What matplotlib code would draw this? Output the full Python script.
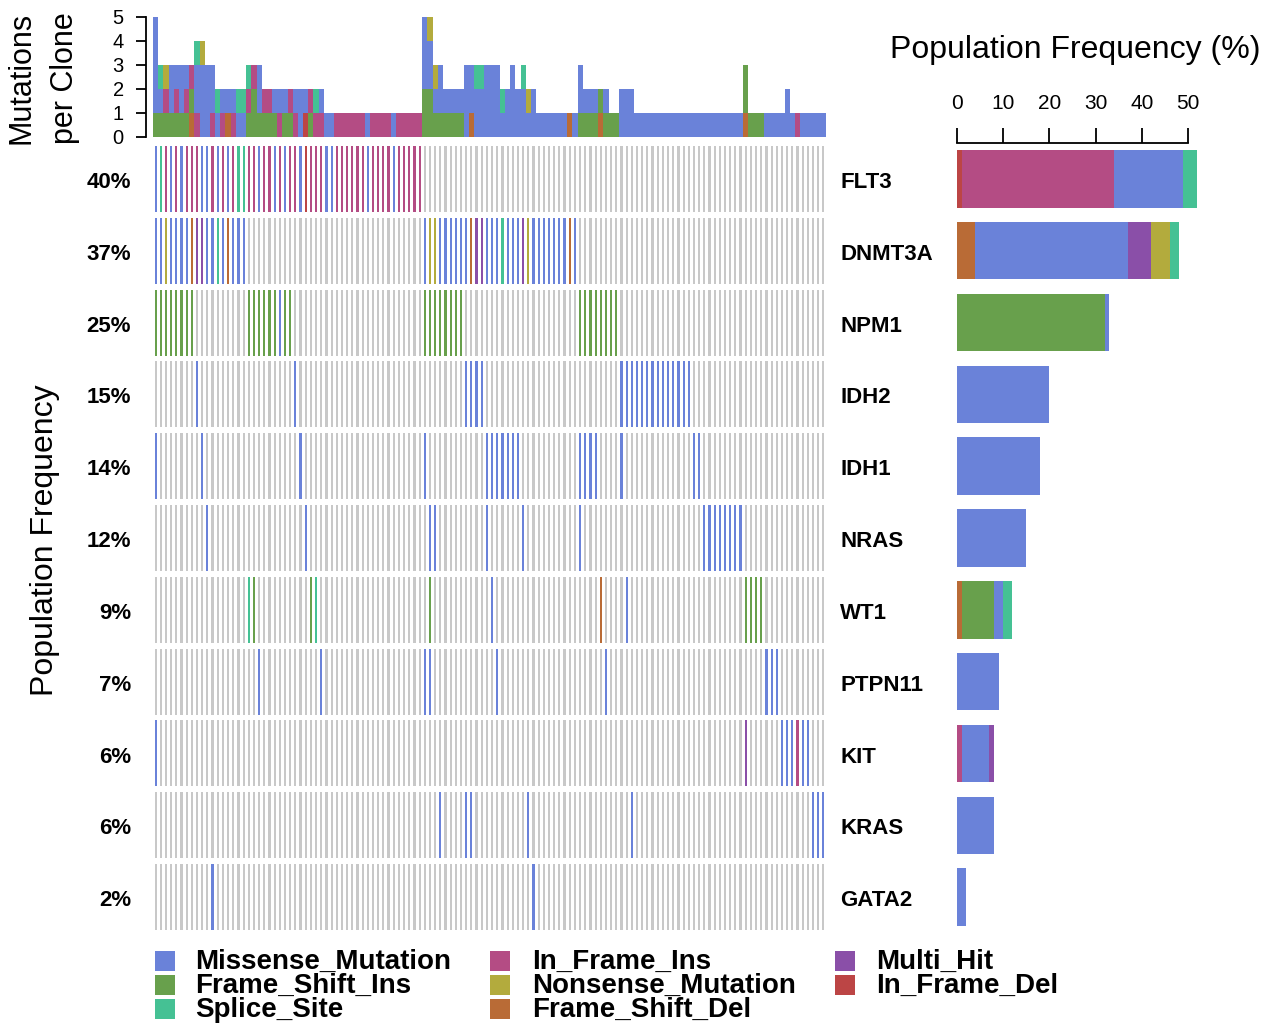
import matplotlib
matplotlib.use("Agg")
import matplotlib.pyplot as plt
from matplotlib.patches import Rectangle
from matplotlib.transforms import blended_transform_factory
import numpy as np

plt.rcParams['font.family'] = ['Liberation Sans', 'DejaVu Sans']

W, H = 1273, 1024
N_SAMPLES = 130

genes = ["FLT3", "DNMT3A", "NPM1", "IDH2", "IDH1", "NRAS",
         "WT1", "PTPN11", "KIT", "KRAS", "GATA2"]

# Per-gene calls as (first sample, variant codes for consecutive samples)
FLT3 = [(0, "MSIMIMIIIMMIMIMISSIIMIIMIMIIMEIIIMMIIIIIIMIIIIMIIIII")]
DNMT3A = [(0, "MMNMMMMDHHMMSMDMMM"), (52, "MNNMMMMMMDHHMMMSMMMHNMMMMMMMDM")]
NPM1 = [(0, "FFFFFFFF"), (18, "FFFFFFMFF"), (52, "FFFFFFFF"), (82, "FFFFFFFF")]
IDH2 = [(8, "M"), (27, "M"), (60, "MMMM"), (90, "MMMMMMMMMMMMMM")]
IDH1 = [(0, "M"), (9, "M"), (28, "M"), (52, "M"), (64, "MMMMMMM"),
        (82, "MMMM"), (90, "M"), (104, "MM")]
NRAS = [(10, "M"), (29, "M"), (53, "MM"), (64, "M"), (71, "M"), (82, "M"),
        (106, "MMMMMMMM")]
WT1 = [(18, "SF"), (30, "FS"), (53, "F"), (65, "M"), (86, "D"), (91, "M"),
       (114, "FFFF")]
PTPN11 = [(20, "M"), (32, "M"), (52, "MM"), (66, "M"), (87, "M"), (118, "MMM")]
KIT = [(0, "M"), (114, "H"), (121, "MMMIMM")]
KRAS = [(55, "M"), (60, "MM"), (72, "M"), (92, "M"), (127, "MMM")]
GATA2 = [(11, "M"), (73, "M")]
gene_calls = [FLT3, DNMT3A, NPM1, IDH2, IDH1, NRAS, WT1, PTPN11, KIT, KRAS, GATA2]

# Mutations per clone, listed bottom to top for every sample
clone_stacks = [
    "FMMMM", "FMS", "FIN", "FMM", "FIM", "FMM", "FIM", "DFI", "IMMS", "MMMN",
    "MMM", "IMM", "MS", "IM", "DM", "IM", "MS", "MS", "FIS", "FFI",
    "FMM", "FI", "FI", "FM", "IM", "FM", "FI", "IM", "MM", "EM",
    "FI", "IS", "IM", "M", "M", "I", "I", "I", "I", "I",
    "I", "M", "I", "I", "I", "I", "M", "I", "I", "I",
    "I", "I", "FFMMM", "FFMMN", "FMN", "FMM", "FM", "FM", "FM", "FM",
    "MMM", "DMM", "MMS", "MMS", "MMM", "MMM", "MMM", "MS", "MM", "MMM",
    "MM", "MMS", "MN", "MM", "M", "M", "M", "M", "M", "M",
    "D", "M", "FMM", "FM", "FM", "FM", "DF", "FM", "F", "F",
    "MM", "MM", "MM", "M", "M", "M", "M", "M", "M", "M",
    "M", "M", "M", "M", "M", "M", "M", "M", "M", "M",
    "M", "M", "M", "M", "DFF", "F", "F", "F", "M", "M",
    "M", "M", "MM", "M", "I", "M", "M", "M", "M", "M",
]

variant_names = {
    "M": "Missense_Mutation", "F": "Frame_Shift_Ins", "S": "Splice_Site",
    "I": "In_Frame_Ins", "N": "Nonsense_Mutation", "D": "Frame_Shift_Del",
    "H": "Multi_Hit", "E": "In_Frame_Del",
}
variant_colors = {
    "M": "#6A82D9", "F": "#68A04C", "S": "#45C194", "I": "#B44C84",
    "N": "#B3AB3D", "D": "#B96B36", "H": "#8A4FA8", "E": "#BC4545",
}
NO_CALL = "#C8C8C8"
legend_columns = [["M", "F", "S"], ["I", "N", "D"], ["H", "E"]]
bar_order = "DFEIMHNS"

# ---------------------------------------------------------------------------
fig = plt.figure(figsize=(W / 100, H / 100), dpi=100)


def axes_px(left, top, right, bottom):
    return fig.add_axes([left / W, 1 - bottom / H, (right - left) / W, (bottom - top) / H])


calls = np.full((len(genes), N_SAMPLES), "", dtype=object)
for g, segments in enumerate(gene_calls):
    for start, codes in segments:
        for k, code in enumerate(codes):
            calls[g, start + k] = code

# Oncoprint matrix
ax_m = axes_px(153, 143, 826, 933)
xs, ys, cols = [], [], []
for g in range(len(genes)):
    for s in range(N_SAMPLES):
        xs.append(s)
        ys.append(g)
        code = calls[g, s]
        cols.append(variant_colors[code] if code else NO_CALL)
ys = np.array(ys, dtype=float)
ax_m.bar(xs, 0.92, bottom=ys - 0.46, width=0.42, color=cols, linewidth=0)
ax_m.set_xlim(-0.5, N_SAMPLES - 0.5)
ax_m.set_ylim(len(genes) - 0.5, -0.5)
ax_m.axis("off")

tr_m = blended_transform_factory(fig.transFigure, ax_m.transData)
for g, gene in enumerate(genes):
    n_mut = int(np.sum(calls[g] != ""))
    pct = round(100 * n_mut / N_SAMPLES)
    ax_m.text(131 / W, g + 0.05, f"{pct}%", transform=tr_m, ha="right", va="center",
              fontsize=16, fontweight="bold")
    ax_m.text(840 / W, g + 0.05, gene, transform=tr_m, ha="left", va="center",
              fontsize=16, fontweight="bold")

fig.text(45 / W, 1 - 540 / H, "Population Frequency", rotation=90,
         ha="center", va="center", fontsize=23)

# Mutations per clone
ax_t = axes_px(153, 17, 826, 137)
max_depth = max(len(s) for s in clone_stacks)
for level in range(max_depth):
    lx, lc = [], []
    for s, stack in enumerate(clone_stacks):
        if len(stack) > level:
            lx.append(s)
            lc.append(variant_colors[stack[level]])
    ax_t.bar(lx, 1, bottom=level, width=1.0, color=lc, linewidth=0)
ax_t.set_xlim(-0.5, N_SAMPLES - 0.5)
ax_t.set_ylim(0, 5)
for side in ("top", "right", "bottom"):
    ax_t.spines[side].set_visible(False)
ax_t.spines["left"].set_position(("outward", 5))
ax_t.spines["left"].set_linewidth(1.3)
ax_t.set_xticks([])
ax_t.set_yticks(range(6))
ax_t.tick_params(axis="y", length=7, width=1.3, labelsize=14.5, pad=9)

fig.text(22 / W, 1 - 78 / H, "Mutations", rotation=90, ha="center", va="center", fontsize=22)
fig.text(65 / W, 1 - 78 / H, "per Clone", rotation=90, ha="center", va="center", fontsize=22)

# Gene frequency bars
ax_r = axes_px(957, 143, 1188, 933)
for g in range(len(genes)):
    left = 0
    for code in bar_order:
        n = int(np.sum(calls[g] == code))
        if n:
            ax_r.barh(g, n, left=left, height=0.8, color=variant_colors[code],
                      linewidth=0, clip_on=False)
            left += n
ax_r.set_xlim(0, 50)
ax_r.set_ylim(len(genes) - 0.5, -0.5)
for side in ("bottom", "right", "left"):
    ax_r.spines[side].set_visible(False)
ax_r.spines["top"].set_linewidth(1.3)
ax_r.set_yticks([])
ax_r.xaxis.tick_top()
ax_r.set_xticks(range(0, 51, 10))
ax_r.tick_params(axis="x", length=11, width=1.3, labelsize=15, pad=10.5)
fig.text(1075 / W, 1 - 50 / H, "Population Frequency (%)", ha="center", va="center",
         fontsize=23)

# Legend
legend_x = [(155, 195), (490, 532), (835, 876)]
legend_y = [961, 985, 1009]
for (px_box, px_txt), column in zip(legend_x, legend_columns):
    for py, code in zip(legend_y, column):
        fig.patches.append(Rectangle((px_box / W, 1 - (py + 10) / H), 20 / W, 20 / H,
                                     transform=fig.transFigure,
                                     facecolor=variant_colors[code], linewidth=0))
        fig.text(px_txt / W, 1 - (py + 1) / H, variant_names[code], ha="left", va="center",
                 fontsize=20, fontweight="bold")

fig.savefig("out.png", dpi=100)
